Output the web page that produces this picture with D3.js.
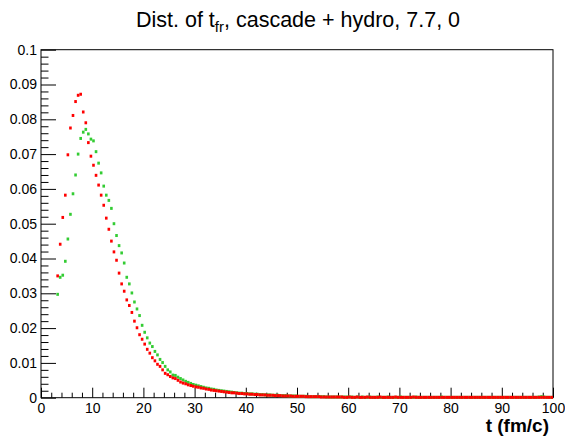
<!DOCTYPE html>
<html><head><meta charset="utf-8">
<script src="https://cdn.jsdelivr.net/npm/d3@7"></script>
<style>
html,body{margin:0;padding:0;background:#fff;}
svg{display:block;font-family:"Liberation Sans",Arial,Helvetica,sans-serif;}
</style></head>
<body>
<svg id="c" width="565" height="436"></svg>
<script>
// ---- data ----
const binStart = 3.25;   // centre of first filled bin (fm/c)
const binWidth = 0.5;
const redValues = [
0.0350,0.0441,0.0518,0.0582,0.0698,0.0775,0.0811,0.0851,0.0869,0.0872,
0.0821,0.0790,0.0733,0.0694,0.0668,0.0639,0.0611,0.0582,0.0553,0.0516,
0.0484,0.0450,0.0419,0.0395,0.0358,0.0327,0.0306,0.0281,0.0265,0.0245,
0.0220,0.0201,0.0181,0.0168,0.0154,0.0139,0.0128,0.0115,0.0106,0.0096,
0.0090,0.0080,0.0070,0.0066,0.0061,0.0057,0.0055,0.0050,0.0045,0.0042,
0.0040,0.0037,0.0035,0.0033,0.0031,0.0030,0.0028,0.0027,0.0025,0.0024,
0.0022,0.0021,0.0020,0.0019,0.0018,0.0017,0.0016,0.0015,0.0014,0.0014,
0.0013,0.0012,0.0012,0.0011,0.0011,0.0010,0.0010,0.0009,0.0009,0.0008,
0.0008,0.0008,0.0007,0.0007,0.0007,0.0006,0.0006,0.0006,0.0005,0.0005,
0.0005,0.0005,0.0004,0.0004,
0.0004,0.0004,0.0004,0.0003,0.0003,0.0003,0.0003,0.0003,0.0003,0.0002,
0.0002,0.0002,0.0002,0.0002,0.0002,0.0002,0.0002,0.0002,0.0001,0.0001,
0.0002,0.0001,0.0001,0.0002,0.0001,0.0001,0.0001,0.0002,0.0001,0.0001,
0.0001,0.0001,0.0002,0.0001,0.0001,0.0001,0.0001,0.0001,0.0002,0.0001,
0.0001,0.0001,0.0001,0.0001,0.0001,0.0002,0.0001,0.0001,0.0001,0.0001,
0.0001,0.0001,0.0001,0.0001,0.0001,0.0001,0.0001,0.0001,0.0001,0.0001,
0.0001,0.0001,0.0001,0.0001,0.0001,0.0001,0.0001,0.0001,0.0001,0.0001,
0.0001,0.0001,0.0001,0.0001,0.0001,0.0001,0.0001,0.0001,0.0001,0.0001,
0.0001,0.0001,0.0001,0.0001,0.0001,0.0001,0.0001,0.0001,0.0001,0.0001,
0.0001,0.0001,0.0001,0.0001,0.0001,0.0001,0.0001,0.0001,0.0001,0.0001
];
const greenValues = [
0.0297,0.0346,0.0352,0.0392,0.0456,0.0527,0.0586,0.0640,0.0700,0.0745,
0.0763,0.0771,0.0758,0.0743,0.0738,0.0707,0.0674,0.0646,0.0608,0.0582,
0.0567,0.0544,0.0500,0.0466,0.0437,0.0416,0.0387,0.0346,0.0327,0.0301,
0.0275,0.0255,0.0236,0.0208,0.0188,0.0172,0.0157,0.0147,0.0133,0.0123,
0.0110,0.0101,0.0090,0.0080,0.0074,0.0065,0.0064,0.0059,0.0055,0.0051,
0.0047,0.0044,0.0041,0.0038,0.0036,0.0034,0.0032,0.0030,0.0028,0.0027,
0.0025,0.0024,0.0022,0.0021,0.0020,0.0019,0.0018,0.0017,0.0016,0.0015,
0.0014,0.0013,0.0013,0.0012,0.0012,0.0011,0.0011,0.0010,0.0010,0.0009,
0.0009,0.0008,0.0008,0.0008,0.0007,0.0007,0.0007,0.0006,0.0006,0.0006,
0.0005,0.0005,0.0005,0.0005,
0.0004,0.0004,0.0004,0.0004,0.0003,0.0003,0.0003,0.0003,0.0003,0.0003,
0.0003,0.0002,0.0002,0.0002,0.0002,0.0002,0.0002,0.0002,0.0002,0.0002,
0.0002,0.0002,0.0001,0.0002,0.0001,0.0002,0.0001,0.0001,0.0002,0.0001,
0.0001,0.0002,0.0001,0.0001,0.0001,0.0002,0.0001,0.0001,0.0001,0.0001,
0.0002,0.0001,0.0001,0.0001,0.0001,0.0001,0.0002,0.0001,0.0001,0.0001,
0.0001,0.0001,0.0001,0.0001,0.0001,0.0001,0.0002,0.0001,0.0001,0.0001,
0.0001,0.0001,0.0001,0.0001,0.0001,0.0001,0.0001,0.0001,0.0001,0.0001,
0.0001,0.0001,0.0001,0.0001,0.0001,0.0001,0.0001,0.0001,0.0001,0.0001,
0.0001,0.0001,0.0001,0.0001,0.0001,0.0001,0.0001,0.0001,0.0001,0.0001,
0.0001,0.0001,0.0001,0.0001,0.0002,0.0003,0.0002,0.0001,0.0001,0.0001
];
const xTicks = [0,10,20,30,40,50,60,70,80,90,100];
const yTicks = [0,0.01,0.02,0.03,0.04,0.05,0.06,0.07,0.08,0.09,0.1];
const yTickLabels = ["0","0.01","0.02","0.03","0.04","0.05","0.06","0.07","0.08","0.09","0.1"];
const titleMain = "Dist. of t";
const titleSub = "fr";
const titleRest = ", cascade + hydro, 7.7, 0";
const xTitle = "t (fm/c)";

// ---- layout ----
const L = 41, R = 553, T = 49.7, B = 397.7;
const svg = d3.select("#c");
const x = d3.scaleLinear().domain([0,100]).range([L,R]);
const y = d3.scaleLinear().domain([0,0.1]).range([B,T]);

const toPts = vals => vals.map((v,i)=>({t: binStart + i*binWidth, v}));

// frame
svg.append("rect").attr("x",L).attr("y",T).attr("width",R-L).attr("height",B-T)
  .attr("fill","none").attr("stroke","#000").attr("stroke-width",1);

// minor ticks
const xMinor = d3.range(0,101,2).filter(d=>d%10!==0);
const yMinor = d3.range(0,0.1001,0.002).filter((d,i)=>i%5!==0);
svg.append("g").attr("transform",`translate(0,${B})`)
  .call(d3.axisBottom(x).tickValues(xMinor).tickSize(-5).tickFormat(""))
  .call(g=>g.select(".domain").remove());
svg.append("g").attr("transform",`translate(${L},0)`)
  .call(d3.axisLeft(y).tickValues(yMinor).tickSize(-7.5).tickFormat(""))
  .call(g=>g.select(".domain").remove());
// major ticks
svg.append("g").attr("transform",`translate(0,${B})`)
  .call(d3.axisBottom(x).tickValues(xTicks).tickSize(-10).tickPadding(5).tickFormat(d3.format("d")))
  .call(g=>g.select(".domain").remove())
  .call(g=>g.selectAll("text").attr("font-size",14).attr("fill","#000").style("font-family","Liberation Sans, Arial, sans-serif"));
svg.append("g").attr("transform",`translate(${L},0)`)
  .call(d3.axisLeft(y).tickValues(yTicks).tickSize(-15).tickPadding(4).tickFormat((d,i)=>yTickLabels[i]))
  .call(g=>g.select(".domain").remove())
  .call(g=>g.selectAll("text").attr("font-size",14).attr("fill","#000").style("font-family","Liberation Sans, Arial, sans-serif"));
svg.selectAll(".tick line").attr("stroke","#000");

// markers
const mw = 2.6, mh = 3;
function drawSeries(vals,color){
  svg.append("g").selectAll("rect").data(toPts(vals)).join("rect")
    .attr("x",d=>x(d.t)-mw/2).attr("y",d=>y(d.v)-mh/2)
    .attr("width",mw).attr("height",mh).attr("fill",color);
}
drawSeries(greenValues,"#33cc33");
drawSeries(redValues,"#ff0000");

// title
const tt = svg.append("text").attr("x",298).attr("y",27).attr("text-anchor","middle")
  .attr("font-size",21.5).attr("fill","#000");
tt.append("tspan").text(titleMain);
tt.append("tspan").attr("font-size",15).attr("dy",5).text(titleSub);
tt.append("tspan").attr("dy",-5).text(titleRest);

// x title
svg.append("text").attr("x",549).attr("y",432).attr("text-anchor","end")
  .attr("font-size",19).attr("font-weight","bold").attr("fill","#000").text(xTitle);
</script>
</body></html>
